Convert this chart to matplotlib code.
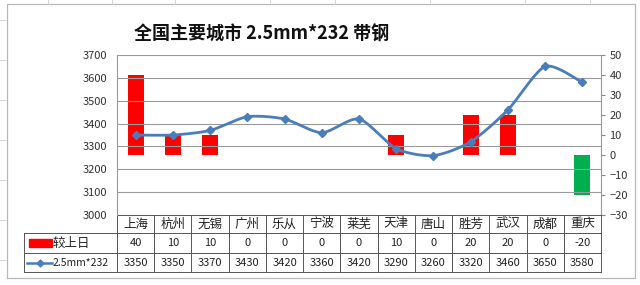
import numpy as np
import matplotlib
matplotlib.use("Agg")
import matplotlib.pyplot as plt
from matplotlib.patches import Rectangle
from matplotlib.lines import Line2D

plt.rcParams['font.family'] = ['Noto Sans CJK SC', 'DejaVu Sans']

title = "全国主要城市 2.5mm*232 带钢"
cities = ["上海", "杭州", "无锡", "广州", "乐从", "宁波", "莱芜", "天津", "唐山", "胜芳", "武汉", "成都", "重庆"]
change = [40, 10, 10, 0, 0, 0, 0, 10, 0, 20, 20, 0, -20]
price = [3350, 3350, 3370, 3430, 3420, 3360, 3420, 3290, 3260, 3320, 3460, 3650, 3580]
bar_label = "较上日"
line_label = "2.5mm*232"
left_ticks = [3000, 3100, 3200, 3300, 3400, 3500, 3600, 3700]
right_ticks = [-30, -20, -10, 0, 10, 20, 30, 40, 50]

W, H = 640, 285
fig = plt.figure(figsize=(W / 100, H / 100), dpi=100)
fig.patch.set_facecolor("white")

# spreadsheet background gridlines
for xv in [48, 112, 175, 270, 335, 430, 525, 590]:
    fig.add_artist(Line2D([xv / W, xv / W], [1, 1 - 4 / H], color="#d0d0d0", lw=0.6))
for yv in [20, 60, 100, 140, 180, 220, 260]:
    fig.add_artist(Line2D([0, 6 / W], [1 - yv / H, 1 - yv / H], color="#d0d0d0", lw=0.6))
# chart frame
fig.add_artist(Rectangle((7 / W, 1 - 278 / H), (635 - 7) / W, (278 - 4) / H,
                         fill=False, ec="#b8b8b8", lw=0.9, transform=fig.transFigure))

x0, x1, ytop, ybot = 117, 601, 55, 215
ax = fig.add_axes([x0 / W, 1 - ybot / H, (x1 - x0) / W, (ybot - ytop) / H])
ax2 = ax.twinx()

n = len(cities)
x = np.arange(n)

# bars on secondary axis
bar_colors = ["#00B050" if v < 0 else "#FF0000" for v in change]
ax2.bar(x, change, width=0.43, color=bar_colors, zorder=2)
ax2.set_ylim(-30, 50)
ax2.set_yticks(right_ticks)
ax2.tick_params(axis="y", labelsize=8, length=3, color="#888888", pad=3)

# smoothed line (Bezier through points, like Excel's smoothed line)
px = x.astype(float)
py = np.array(price, dtype=float)
k = 8.0
sx, sy = [], []
for i in range(n - 1):
    p0 = (px[max(i - 1, 0)], py[max(i - 1, 0)])
    p1 = (px[i], py[i])
    p2 = (px[i + 1], py[i + 1])
    p3 = (px[min(i + 2, n - 1)], py[min(i + 2, n - 1)])
    c1 = (p1[0] + (p2[0] - p0[0]) / k, p1[1] + (p2[1] - p0[1]) / k)
    c2 = (p2[0] - (p3[0] - p1[0]) / k, p2[1] - (p3[1] - p1[1]) / k)
    t = np.linspace(0, 1, 20)
    bx = (1 - t) ** 3 * p1[0] + 3 * (1 - t) ** 2 * t * c1[0] + 3 * (1 - t) * t ** 2 * c2[0] + t ** 3 * p2[0]
    by = (1 - t) ** 3 * p1[1] + 3 * (1 - t) ** 2 * t * c1[1] + 3 * (1 - t) * t ** 2 * c2[1] + t ** 3 * p2[1]
    sx.extend(bx)
    sy.extend(by)
line_color = "#4A7EBB"
ax.set_zorder(ax2.get_zorder() + 1)
ax.patch.set_visible(False)
ax.plot(sx, sy, color=line_color, lw=2.0, zorder=3, solid_capstyle="round")
ax.plot(px, py, ls="none", marker="D", ms=4.5, color=line_color, zorder=4)

ax.set_ylim(3000, 3700)
ax.set_yticks(left_ticks)
ax.set_xlim(-0.5, n - 0.5)
ax.set_xticks([])
ax.tick_params(axis="y", labelsize=8, length=0, pad=7)
for t in ax.get_yticklabels():
    t.set_color("#333333")
for t in ax2.get_yticklabels():
    t.set_color("#333333")
ax.grid(axis="y", color="#9a9a9a", lw=0.8)
ax.set_axisbelow(True)
for a in (ax, ax2):
    a.spines["top"].set_visible(False)
    a.spines["bottom"].set_visible(False)
    a.spines["left"].set_color("#999999")
    a.spines["right"].set_color("#999999")
ax2.spines["left"].set_visible(False)
ax.spines["right"].set_visible(False)

# data table
trans = ax.get_xaxis_transform()
ph = ybot - ytop
r0, r1, r2, r3 = 0, -18 / ph, -38 / ph, -57 / ph
lc = "#555555"
lw = 0.7
xl = -3.0
ax.plot([-0.5, n - 0.5], [r0, r0], transform=trans, color=lc, lw=lw, clip_on=False)
for r in (r1, r2, r3):
    ax.plot([xl, n - 0.5], [r, r], transform=trans, color=lc, lw=lw, clip_on=False)
for i in range(n + 1):
    ax.plot([i - 0.5, i - 0.5], [r0, r3], transform=trans, color=lc, lw=lw, clip_on=False)
ax.plot([xl, xl], [r1, r3], transform=trans, color=lc, lw=lw, clip_on=False)

for i in range(n):
    ax.text(i, (r0 + r1) / 2, cities[i], transform=trans, ha="center", va="center",
            fontsize=9, color="#222222", clip_on=False)
    ax.text(i, (r1 + r2) / 2, str(change[i]), transform=trans, ha="center", va="center",
            fontsize=8, color="#222222", clip_on=False)
    ax.text(i, (r2 + r3) / 2, str(price[i]), transform=trans, ha="center", va="center",
            fontsize=8, color="#222222", clip_on=False)

# legend keys in table
ax.add_patch(Rectangle((xl + 0.14, (r1 + r2) / 2 - 0.028), 0.62, 0.056, transform=trans,
                       color="#FF0000", clip_on=False))
ax.text(xl + 0.78, (r1 + r2) / 2, bar_label, transform=trans, ha="left", va="center",
        fontsize=9, color="#222222", clip_on=False)
ax.plot([xl + 0.08, xl + 0.76], [(r2 + r3) / 2] * 2, transform=trans, color=line_color,
        lw=1.8, clip_on=False)
ax.plot([xl + 0.42], [(r2 + r3) / 2], transform=trans, marker="D", ms=3.5, color=line_color,
        clip_on=False)
ax.text(xl + 0.78, (r2 + r3) / 2, line_label, transform=trans, ha="left", va="center",
        fontsize=7.5, color="#222222", clip_on=False)

fig.text(262 / W, 1 - 34 / H, title, ha="center", va="center", fontsize=13,
         fontweight="bold", color="#111111")

fig.savefig("out.png", dpi=100)
